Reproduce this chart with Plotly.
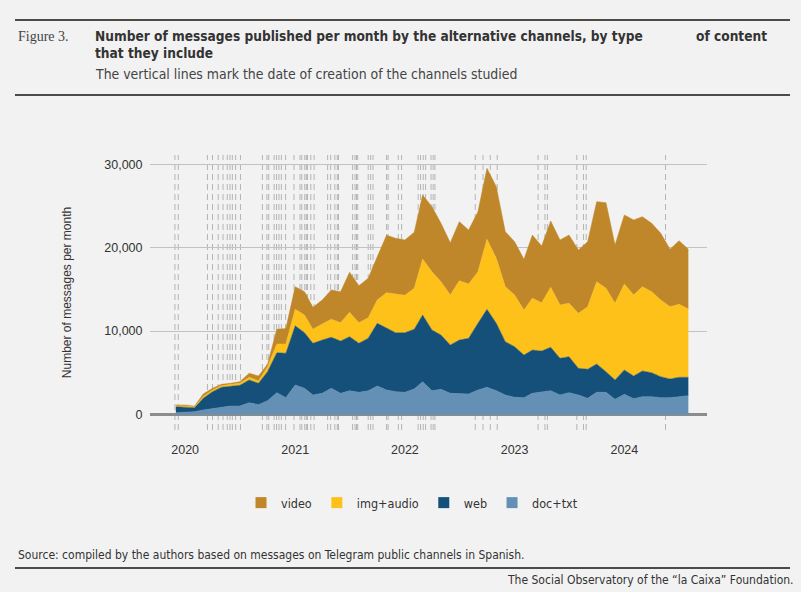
import pandas as pd
import plotly.graph_objects as go

# ---------------- data ----------------
months = pd.date_range("2019-12-01", periods=57, freq="MS")

doc_txt = [220, 260, 340, 540, 740, 860, 1020, 1020, 1420, 1180,
           1660, 2620, 2020, 3540, 3140, 2340, 2540, 3140, 2540, 2850,
           2660, 2850, 3420, 2940, 2740, 2660, 3060, 3930, 2860, 3020,
           2540, 2540, 2460, 2940, 3260, 2860, 2340, 2060, 2020, 2540,
           2660, 2860, 2340, 2620, 2340, 1940, 2660, 2660, 1820, 2420,
           1900, 2140, 2140, 2020, 2020, 2140, 2260]
web = [720, 660, 480, 1400, 2000, 2400, 2400, 2480, 2720, 2560,
       3470, 4790, 5320, 7090, 6670, 6200, 6390, 6120, 6270, 6480,
       5880, 6290, 7520, 7470, 7070, 7150, 7160, 8000, 7270, 6510,
       5790, 6390, 6670, 8000, 9350, 8080, 6390, 6070, 5110, 5190,
       4950, 5200, 4400, 4310, 3200, 3480, 3400, 2470, 2320, 2920,
       2720, 3080, 2870, 2510, 2240, 2320, 2200]
img_audio = [120, 120, 80, 200, 200, 200, 200, 240, 320, 280,
             600, 1040, 1110, 1980, 2120, 1680, 1920, 2160, 2200, 2920,
             2470, 2470, 2790, 4200, 4640, 4480, 4910, 6720, 6990, 6390,
             6000, 7110, 6520, 6180, 8400, 7790, 6590, 6200, 5400, 6200,
             5800, 7190, 6390, 6400, 6590, 7510, 9860, 10000, 9190, 10310,
             9710, 10100, 9720, 9200, 8670, 8750, 8190]
video = [90, 90, 100, 320, 200, 160, 120, 190, 480, 600,
         290, 1770, 1850, 2710, 2800, 2630, 2880, 3510, 3720, 4800,
         4430, 4720, 5190, 6880, 6680, 6630, 6720, 7670, 7800, 7000,
         6270, 7080, 6470, 7200, 8510, 8590, 6600, 6390, 6080, 7590,
         6790, 7950, 7790, 8190, 7590, 7790, 9600, 10270, 6990, 8270,
         8990, 8400, 8190, 8000, 6880, 7630, 7160]

# channel creation dates (vertical dashed lines)
channel_dates = [
    "2019-11-28", "2019-12-09", "2020-03-15", "2020-04-01", "2020-04-20",
    "2020-05-06", "2020-05-20", "2020-05-29", "2020-06-06", "2020-06-17",
    "2020-07-03", "2020-09-14", "2020-09-29", "2020-10-05", "2020-10-23",
    "2020-10-31", "2020-11-08", "2020-11-16", "2020-11-30", "2020-12-28",
    "2021-01-17", "2021-01-23", "2021-02-02", "2021-02-07", "2021-02-11",
    "2021-02-22", "2021-03-05", "2021-04-19", "2021-04-29", "2021-05-13",
    "2021-05-21", "2021-05-25", "2021-07-11", "2021-07-19", "2021-07-24",
    "2021-07-28", "2021-09-01", "2021-09-09", "2021-09-17", "2021-11-01",
    "2021-11-06", "2021-12-10", "2021-12-21", "2022-02-14", "2022-02-22",
    "2022-03-03", "2022-03-11", "2022-03-29", "2022-04-05", "2022-04-11",
    "2022-08-23", "2022-09-18", "2022-10-12", "2022-11-04", "2023-03-20",
    "2023-04-12", "2023-04-20", "2023-07-27", "2023-08-18", "2023-08-27",
    "2024-05-17",
]

series_names = ["doc+txt", "web", "img+audio", "video"]
series_values = [doc_txt, web, img_audio, video]
series_colors = ["#6590B5", "#145079", "#FEC11A", "#BF8729"]

year_ticks = ["2020-01-01", "2021-01-01", "2022-01-01", "2023-01-01", "2024-01-01"]
year_labels = ["2020", "2021", "2022", "2023", "2024"]
y_ticks = [0, 10000, 20000, 30000]

# ---------------- layout helpers ----------------
W, H = 801, 592
L, R, T, B = 150, 94, 155, 162
PW, PH = W - L - R, H - T - B


def px(x):
    return (x - L) / PW


def py(y):
    return (H - B - y) / PH


BG = "#F2F2F2"
NARROW = "DejaVu Sans Condensed, Liberation Sans Narrow, sans-serif"
SANS = "Liberation Sans, Arial, Helvetica, sans-serif"

fig = go.Figure()

for name, vals, col in zip(series_names, series_values, series_colors):
    fig.add_trace(go.Scatter(
        x=months, y=vals, name=name, mode="lines", stackgroup="one",
        line=dict(width=0.5, color=col), fillcolor=col, showlegend=False,
        hoverinfo="x+y+name",
    ))

# legend entries with square swatches
for name, col in zip(series_names, series_colors):
    fig.add_trace(go.Scatter(
        x=[None], y=[None], mode="markers", name=name,
        marker=dict(symbol="square", size=11, color=col),
        showlegend=True,
    ))

# vertical dashed lines
for d in channel_dates:
    fig.add_shape(type="line", xref="x", yref="paper", x0=d, x1=d, y0=0, y1=1,
                  line=dict(color="#B4B4B4", width=1, dash="6px,4px"), layer="below")

# header / footer rules
for yy in (20, 95, 568):
    fig.add_shape(type="line", xref="paper", yref="paper",
                  x0=px(15), x1=px(790), y0=py(yy), y1=py(yy),
                  line=dict(color="#4D4A48", width=2.2))

ann = []
ann.append(dict(text="Figure 3.", x=px(16), y=py(36), xanchor="left", yanchor="middle",
                font=dict(family="Liberation Serif, serif", size=14, color="#444")))
ann.append(dict(text="<b>Number of messages published per month by the alternative channels, by type</b>",
                x=px(93), y=py(36), xanchor="left", yanchor="middle",
                font=dict(family=NARROW, size=13.6, color="#333")))
ann.append(dict(text="<b>of content</b>", x=px(694), y=py(36), xanchor="left", yanchor="middle",
                font=dict(family=NARROW, size=13.6, color="#333")))
ann.append(dict(text="<b>that they include</b>", x=px(93), y=py(53), xanchor="left", yanchor="middle",
                font=dict(family=NARROW, size=13.6, color="#333")))
ann.append(dict(text="The vertical lines mark the date of creation of the channels studied",
                x=px(93), y=py(74), xanchor="left", yanchor="middle",
                font=dict(family=NARROW, size=13.9, color="#444")))
ann.append(dict(text="Source: compiled by the authors based on messages on Telegram public channels in Spanish.",
                x=px(16), y=py(555), xanchor="left", yanchor="middle",
                font=dict(family=NARROW, size=12, color="#333")))
ann.append(dict(text="The Social Observatory of the “la Caixa” Foundation.",
                x=px(796), y=py(580), xanchor="right", yanchor="middle",
                font=dict(family=NARROW, size=12, color="#333")))
for a in ann:
    a.update(xref="paper", yref="paper", showarrow=False)

fig.update_layout(
    width=W, height=H,
    margin=dict(l=L, r=R, t=T, b=B, autoexpand=False),
    paper_bgcolor=BG, plot_bgcolor=BG,
    annotations=ann,
    showlegend=True,
    legend=dict(orientation="h", x=px(412), y=py(503), xanchor="center", yanchor="middle",
                traceorder="reversed", bgcolor="rgba(0,0,0,0)",
                font=dict(family=NARROW, size=12.5, color="#333"),
                itemwidth=30),
    xaxis=dict(type="date", range=["2019-09-06", "2024-10-02"],
               tickvals=year_ticks, ticktext=year_labels,
               showgrid=False, zeroline=False, showline=False,
               ticks="outside", ticklen=8, tickcolor="rgba(0,0,0,0)",
               tickfont=dict(family=SANS, size=12.5, color="#333")),
    yaxis=dict(range=[-1860, 31115], tickvals=y_ticks, tickformat=",",
               showgrid=True, gridcolor="#C2C2C2", gridwidth=1,
               zeroline=True, zerolinecolor="#8C8C8C", zerolinewidth=2.5,
               showline=False, ticks="outside", ticklen=4, tickcolor="rgba(0,0,0,0)",
               tickfont=dict(family=SANS, size=12.5, color="#333"),
               title=dict(text="Number of messages per month", standoff=30,
                          font=dict(family=SANS, size=12, color="#333"))),
)

fig.write_html("out.html", config={"displayModeBar": False},
               post_script="document.body.style.margin='0px';")
